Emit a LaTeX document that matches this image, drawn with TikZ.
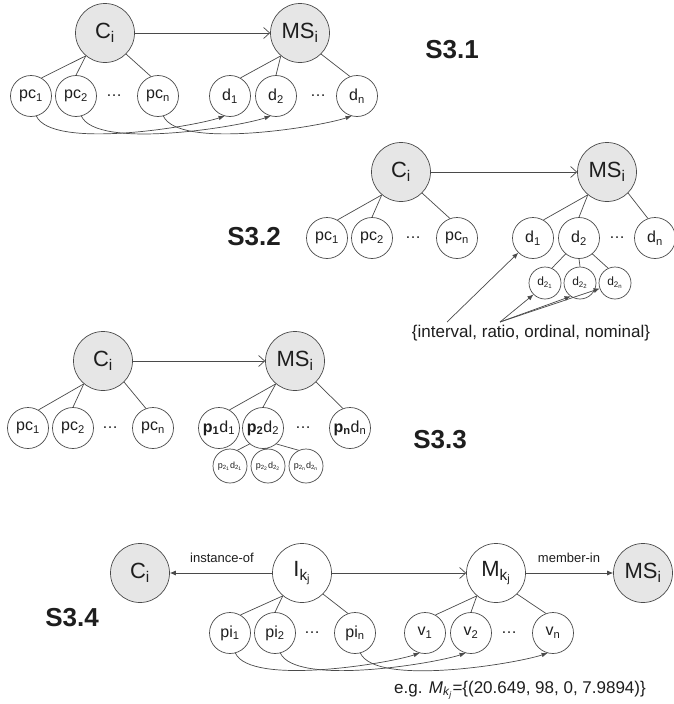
\documentclass[tikz,border=0pt]{standalone}
\usepackage{fontspec}
\setmainfont{Liberation Sans}
\usetikzlibrary{arrows.meta}
\definecolor{lc}{HTML}{4A4A4A}
\definecolor{gf}{HTML}{E6E6E6}
\definecolor{tc}{HTML}{1E1E1E}
\begin{document}
\begin{tikzpicture}[x=1pt,y=1pt,
  big/.style={circle, draw=lc, line width=0.7pt, fill=gf, minimum size=59pt, inner sep=0pt, text=tc, font=\fontsize{22}{22}\selectfont},
  bigw/.style={big, fill=white},
  sm/.style={circle, draw=lc, line width=0.7pt, fill=white, minimum size=41pt, inner sep=0pt, text=tc, font=\fontsize{16}{16}\selectfont},
  subc/.style={circle, draw=lc, line width=0.7pt, fill=white, minimum size=32pt, inner sep=0pt, text=tc, font=\fontsize{12}{12}\selectfont},
  subd/.style={subc, minimum size=34pt, font=\fontsize{9}{9}\selectfont},
  dotsn/.style={text=tc, font=\fontsize{16}{16}\selectfont},
  lbl/.style={text=tc, font=\bfseries\fontsize{26}{26}\selectfont},
  ann/.style={text=tc, font=\fontsize{17}{17}\selectfont},
  annsm/.style={text=tc, font=\fontsize{13}{13}\selectfont},
  tl/.style={draw=lc, line width=0.7pt},
  harr/.style={tl, -{Straight Barb[length=6pt,width=11pt]}},
  farr/.style={tl, -{Latex[length=6pt,width=5pt]}},
  curv/.style={tl, -{Latex[length=6pt,width=4.5pt]}, out=-65, in=-162, looseness=0.5}
]
\useasboundingbox (0,0) rectangle (674,-704);
\fill[white] (0,0) rectangle (674,-704);

% ---------- S3.1 ----------
\node[big] (a1) at (105,-33) {C\textsubscript{i}};
\node[big] (b1) at (300,-33) {MS\textsubscript{i}};
\node[sm] (a1p1) at (31,-96) {pc\textsubscript{1}};
\node[sm] (a1p2) at (76,-96) {pc\textsubscript{2}};
\node[dotsn] (a1pd) at (114,-96) {\dots};
\node[sm] (a1pn) at (158,-96) {pc\textsubscript{n}};
\node[sm] (b1d1) at (230,-96) {d\textsubscript{1}};
\node[sm] (b1d2) at (276,-96) {d\textsubscript{2}};
\node[dotsn] (b1dd) at (318,-96) {\dots};
\node[sm] (b1dn) at (357,-96) {d\textsubscript{n}};
\node[lbl] (l1) at (452,-50) {S3.1};
\draw[harr] (a1) -- (b1);
\draw[tl] (a1.-130) -- (a1p1.60);
\draw[tl] (a1.-130) -- (a1p2.north);
\draw[tl] (a1.-45) -- (a1pn.110);
\draw[tl] (b1.-130) -- (b1d1.60);
\draw[tl] (b1.-130) -- (b1d2.north);
\draw[tl] (b1.-45) -- (b1dn.110);
\draw[curv] (a1p1.-75) to (b1d1.-105);
\draw[curv] (a1p2.-75) to (b1d2.-105);
\draw[curv] (a1pn.-75) to (b1dn.-105);

% ---------- S3.2 ----------
\node[big] (a2) at (401,-172) {C\textsubscript{i}};
\node[big] (b2) at (607,-172) {MS\textsubscript{i}};
\node[sm] (a2p1) at (327,-238) {pc\textsubscript{1}};
\node[sm] (a2p2) at (372,-238) {pc\textsubscript{2}};
\node[dotsn] (a2pd) at (413,-238) {\dots};
\node[sm] (a2pn) at (457,-238) {pc\textsubscript{n}};
\node[sm] (b2d1) at (533,-238) {d\textsubscript{1}};
\node[sm] (b2d2) at (579,-238) {d\textsubscript{2}};
\node[dotsn] (b2dd) at (617,-238) {\dots};
\node[sm] (b2dn) at (655,-238) {d\textsubscript{n}};
\node[subc] (s21) at (545,-283) {d\textsubscript{2\textsubscript{1}}};
\node[subc] (s22) at (580,-283) {d\textsubscript{2\textsubscript{2}}};
\node[subc] (s2n) at (615,-283) {d\textsubscript{2\textsubscript{n}}};
\node[lbl] (l2) at (254,-237) {S3.2};
\node[ann] (iv) at (531,-333) {\{interval, ratio, ordinal, nominal\}};
\coordinate (f1) at (447,-322);
\coordinate (f2) at (500,-322);
\draw[harr] (a2) -- (b2);
\draw[tl] (a2.-130) -- (a2p1.60);
\draw[tl] (a2.-130) -- (a2p2.north);
\draw[tl] (a2.-45) -- (a2pn.110);
\draw[tl] (b2.-130) -- (b2d1.60);
\draw[tl] (b2.-130) -- (b2d2.north);
\draw[tl] (b2.-45) -- (b2dn.110);
\draw[tl] (b2d2.-130) -- (s21.65);
\draw[tl] (b2d2.south) -- (s22.north);
\draw[tl] (b2d2.-50) -- (s2n.115);
\draw[farr] (f1) -- (b2d1.-135);
\draw[farr] (f2) -- (s21.-135);
\draw[farr] (f2) -- (s22.-125);
\draw[farr] (f2) -- (s2n.-160);

% ---------- S3.3 ----------
\node[big] (a3) at (103,-361) {C\textsubscript{i}};
\node[big] (b3) at (295,-361) {MS\textsubscript{i}};
\node[sm] (a3p1) at (28,-428) {pc\textsubscript{1}};
\node[sm] (a3p2) at (73,-428) {pc\textsubscript{2}};
\node[dotsn] (a3pd) at (110,-428) {\dots};
\node[sm] (a3pn) at (153,-428) {pc\textsubscript{n}};
\node[sm] (b3d1) at (219,-428) {\textbf{p\textsubscript{1}}d\textsubscript{1}};
\node[sm] (b3d2) at (263,-428) {\textbf{p\textsubscript{2}}d\textsubscript{2}};
\node[dotsn] (b3dd) at (303,-428) {\dots};
\node[sm] (b3dn) at (350,-428) {\textbf{p\textsubscript{n}}d\textsubscript{n}};
\node[subd] (s31) at (230,-466) {p\textsubscript{2\textsubscript{1}}d\textsubscript{2\textsubscript{1}}};
\node[subd] (s32) at (268,-466) {p\textsubscript{2\textsubscript{2}}d\textsubscript{2\textsubscript{2}}};
\node[subd] (s3n) at (306,-466) {p\textsubscript{2\textsubscript{n}}d\textsubscript{2\textsubscript{n}}};
\node[lbl] (l3) at (440,-440) {S3.3};
\draw[harr] (a3) -- (b3);
\draw[tl] (a3.-130) -- (a3p1.60);
\draw[tl] (a3.-130) -- (a3p2.north);
\draw[tl] (a3.-45) -- (a3pn.110);
\draw[tl] (b3.-130) -- (b3d1.60);
\draw[tl] (b3.-130) -- (b3d2.north);
\draw[tl] (b3.-45) -- (b3dn.110);
\draw[tl] (b3d2.-130) -- (s31.65);
\draw[tl] (b3d2.south) -- (s32.north);
\draw[tl] (b3d2.-50) -- (s3n.115);

% ---------- S3.4 ----------
\node[big] (c4) at (140,-573) {C\textsubscript{i}};
\node[bigw] (i4) at (302,-573) {I\textsubscript{k\textsubscript{j}}};
\node[bigw] (m4) at (496,-573) {M\textsubscript{k\textsubscript{j}}};
\node[big] (ms4) at (643,-573) {MS\textsubscript{i}};
\node[sm] (i4p1) at (230,-633) {pi\textsubscript{1}};
\node[sm] (i4p2) at (275,-633) {pi\textsubscript{2}};
\node[dotsn] (i4pd) at (312,-633) {\dots};
\node[sm] (i4pn) at (355,-633) {pi\textsubscript{n}};
\node[sm] (m4v1) at (425,-633) {v\textsubscript{1}};
\node[sm] (m4v2) at (471,-633) {v\textsubscript{2}};
\node[dotsn] (m4vd) at (509,-633) {\dots};
\node[sm] (m4vn) at (553,-633) {v\textsubscript{n}};
\node[lbl] (l4) at (72,-618) {S3.4};
\node[annsm] (io) at (222,-558) {instance-of};
\node[annsm] (mi) at (569,-558) {member-in};
\node[ann] (eg) at (520,-690) {e.g. \textit{M}\textsubscript{\textit{k}\textsubscript{\textit{j}}}=\{(20.649, 98, 0, 7.9894)\}};
\draw[farr] (i4) -- (c4);
\draw[harr] (i4) -- (m4);
\draw[farr] (m4) -- (ms4);
\draw[tl] (i4.-130) -- (i4p1.60);
\draw[tl] (i4.-130) -- (i4p2.north);
\draw[tl] (i4.-45) -- (i4pn.110);
\draw[tl] (m4.-130) -- (m4v1.60);
\draw[tl] (m4.-130) -- (m4v2.north);
\draw[tl] (m4.-45) -- (m4vn.110);
\draw[curv] (i4p1.-75) to (m4v1.-105);
\draw[curv] (i4p2.-75) to (m4v2.-105);
\draw[curv] (i4pn.-75) to (m4vn.-105);
\end{tikzpicture}
\end{document}
